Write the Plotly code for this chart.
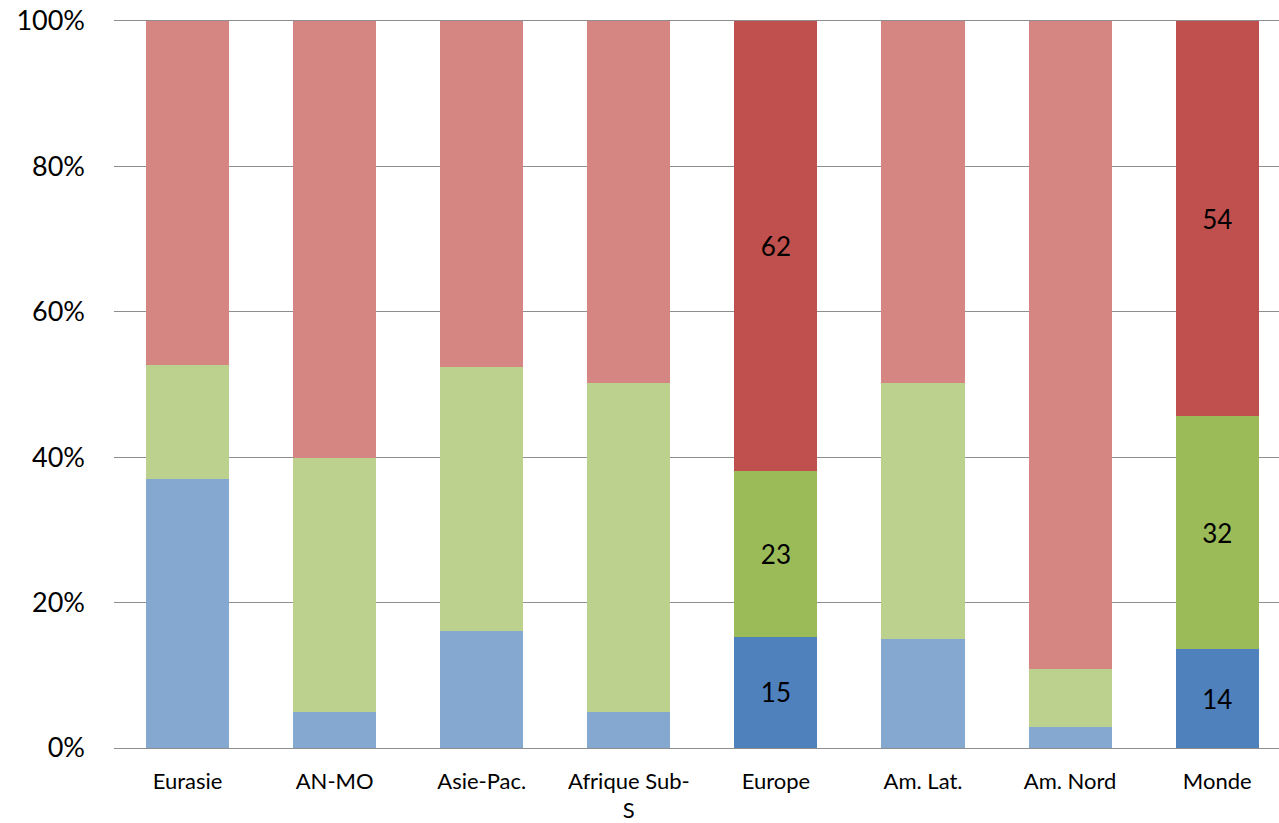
import plotly.graph_objects as go

categories = ["Eurasie", "AN-MO", "Asie-Pac.", "Afrique Sub-<br>S", "Europe", "Am. Lat.", "Am. Nord", "Monde"]
blue_vals = [37.0, 5.0, 16.1, 5.0, 15.3, 15.0, 2.9, 13.6]
green_vals = [15.7, 34.9, 36.3, 45.2, 22.8, 35.2, 8.0, 32.0]
red_vals = [47.3, 60.1, 47.6, 49.8, 61.9, 49.8, 89.1, 54.4]
highlight = [False, False, False, False, True, False, False, True]
y_ticks = [0, 20, 40, 60, 80, 100]
y_tick_labels = ["0%", "20%", "40%", "60%", "80%", "100%"]

def colors(light, dark):
    return [dark if h else light for h in highlight]

def texts(vals):
    return [f"{v:.0f}" if h else "" for v, h in zip(vals, highlight)]

series = [
    (blue_vals, "#85A8D1", "#4F81BD"),
    (green_vals, "#BCD18D", "#9BBB59"),
    (red_vals, "#D58582", "#C0504D"),
]

fig = go.Figure()
for vals, light, dark in series:
    fig.add_trace(go.Bar(
        x=categories, y=vals,
        marker=dict(color=colors(light, dark), line=dict(width=0)),
        text=texts(vals), textposition="inside", insidetextanchor="middle",
        textangle=0, constraintext="none",
        textfont=dict(family="Lato, Open Sans, sans-serif", size=26, color="#000000"),
        hoverinfo="skip",
    ))

fig.update_layout(
    barmode="stack", bargap=0.435,
    width=1279, height=823,
    margin=dict(l=114, r=0, t=21, b=75),
    paper_bgcolor="white", plot_bgcolor="white",
    showlegend=False,
    font=dict(family="Lato, Open Sans, sans-serif", color="#000000"),
    yaxis=dict(range=[0, 100], tickmode="array", tickvals=y_ticks, ticktext=y_tick_labels,
               showgrid=True, gridcolor="#8E8E8E", gridwidth=1, zeroline=False,
               tickfont=dict(size=27), ticklabelstandoff=28, fixedrange=True),
    xaxis=dict(showline=True, linecolor="#8E8E8E", linewidth=1, mirror=True, ticks="",
               range=[-0.5, 7.42],
               tickfont=dict(size=22), ticklabelstandoff=14, fixedrange=True),
)

fig.write_html("out.html", config={"displayModeBar": False, "staticPlot": True},
               post_script="document.body.style.margin='0';document.body.style.overflow='hidden';")
